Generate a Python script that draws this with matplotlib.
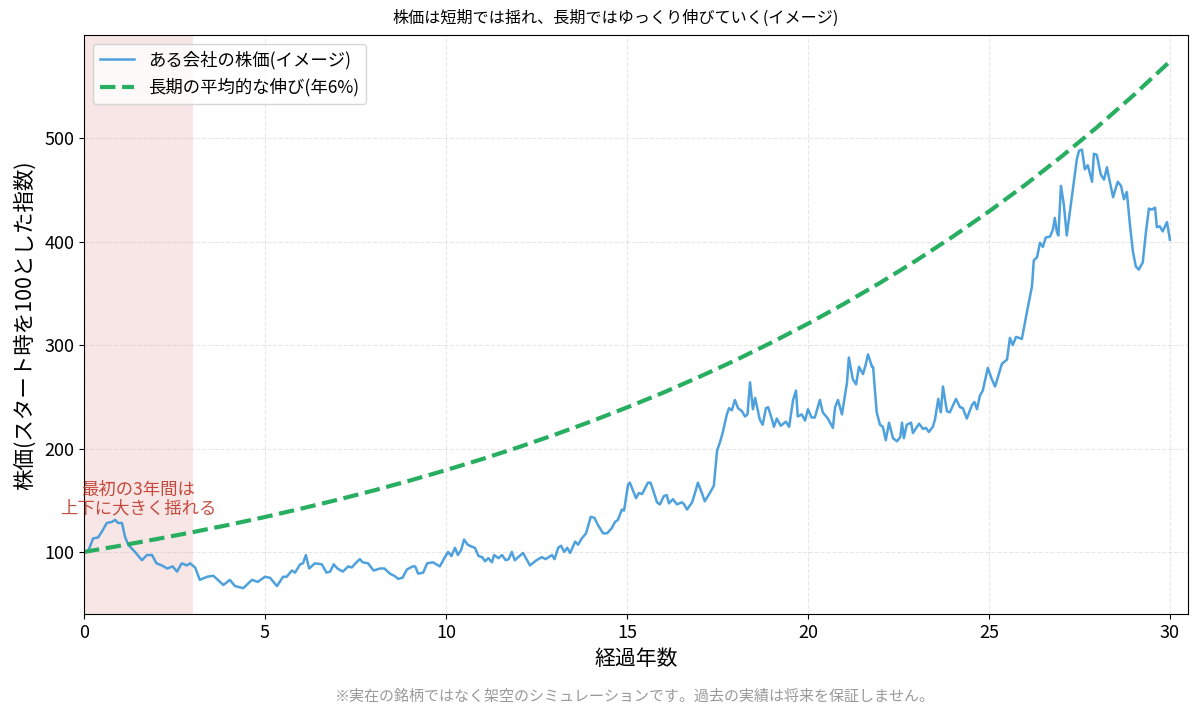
import numpy as np
import matplotlib
matplotlib.use("Agg")
import matplotlib.pyplot as plt

plt.rcParams['font.family'] = ['Noto Sans CJK JP', 'DejaVu Sans']

# years elapsed and simulated price (start = 100)
years = [0.00, 0.12, 0.25, 0.39, 0.50, 0.63, 0.77, 0.86, 0.94, 1.05, 1.13, 1.22, 1.41, 1.60, 1.74, 1.88,
         2.00, 2.15, 2.30, 2.45, 2.57, 2.70, 2.84, 2.93, 3.07, 3.20, 3.40, 3.57, 3.70, 3.85, 4.03, 4.17,
         4.40, 4.64, 4.80, 5.00, 5.14, 5.33, 5.50, 5.60, 5.74, 5.83, 5.97, 6.05, 6.13, 6.22, 6.38, 6.57,
         6.70, 6.80, 6.90, 7.00, 7.15, 7.30, 7.40, 7.50, 7.62, 7.70, 7.85, 8.00, 8.18, 8.30, 8.45, 8.57,
         8.68, 8.80, 8.92, 9.08, 9.15, 9.23, 9.37, 9.48, 9.64, 9.83, 9.97, 10.06, 10.15, 10.25, 10.33,
         10.42, 10.50, 10.60, 10.72, 10.80, 10.90, 11.00, 11.08, 11.17, 11.27, 11.33, 11.45, 11.55, 11.65,
         11.73, 11.82, 11.90, 12.13, 12.32, 12.50, 12.65, 12.75, 12.93, 13.00, 13.10, 13.18, 13.27, 13.35,
         13.43, 13.57, 13.65, 13.75, 13.87, 14.00, 14.10, 14.20, 14.34, 14.45, 14.58, 14.67, 14.75, 14.86,
         14.92, 15.03, 15.08, 15.25, 15.33, 15.42, 15.58, 15.65, 15.72, 15.83, 15.91, 16.02, 16.10, 16.16,
         16.27, 16.38, 16.52, 16.58, 16.66, 16.80, 16.88, 16.96, 17.07, 17.15, 17.29, 17.40, 17.49, 17.57,
         17.65, 17.76, 17.82, 17.90, 17.98, 18.07, 18.18, 18.26, 18.33, 18.40, 18.48, 18.54, 18.62, 18.67,
         18.75, 18.84, 18.90, 19.00, 19.06, 19.14, 19.25, 19.39, 19.48, 19.59, 19.67, 19.72, 19.83, 19.92,
         20.00, 20.10, 20.19, 20.33, 20.41, 20.55, 20.69, 20.75, 20.83, 20.94, 21.08, 21.13, 21.24, 21.33,
         21.41, 21.52, 21.58, 21.66, 21.77, 21.80, 21.90, 21.99, 22.07, 22.15, 22.24, 22.35, 22.46, 22.55,
         22.60, 22.65, 22.73, 22.85, 22.90, 23.07, 23.18, 23.26, 23.34, 23.45, 23.51, 23.60, 23.67, 23.73,
         23.84, 23.92, 24.09, 24.20, 24.28, 24.39, 24.53, 24.60, 24.67, 24.75, 24.83, 24.97, 25.08, 25.17,
         25.36, 25.50, 25.58, 25.66, 25.75, 25.91, 26.05, 26.19, 26.24, 26.33, 26.41, 26.49, 26.57, 26.69,
         26.77, 26.82, 26.88, 26.92, 26.99, 27.07, 27.15, 27.27, 27.35, 27.43, 27.49, 27.57, 27.65, 27.73,
         27.85, 27.90, 27.98, 28.09, 28.18, 28.26, 28.31, 28.43, 28.48, 28.56, 28.65, 28.73, 28.81, 28.90,
         28.98, 29.06, 29.14, 29.25, 29.34, 29.42, 29.50, 29.59, 29.64, 29.72, 29.80, 29.92, 30.00]
price = [100, 101, 113, 114, 120, 128, 129, 131, 128, 128, 115, 107, 100, 92, 97, 97,
         89, 87, 84, 86, 81, 89, 87, 89, 85, 73, 76, 77, 73, 68, 73, 67,
         65, 73, 71, 76, 75, 67, 76, 76, 82, 80, 88, 89, 97, 84, 89, 88,
         80, 81, 88, 84, 81, 86, 85, 89, 93, 90, 89, 82, 84, 84, 79, 77,
         74, 75, 83, 86, 86, 79, 80, 89, 90, 86, 95, 100, 96, 104, 97,
         102, 112, 107, 105, 104, 96, 95, 91, 94, 90, 97, 94, 97, 92,
         93, 100, 92, 99, 87, 92, 95, 93, 97, 93, 104, 106, 100, 104,
         99, 110, 107, 113, 118, 134, 133, 126, 118, 118, 123, 129, 131, 141,
         140, 165, 167, 152, 157, 156, 167, 167, 160, 148, 146, 154, 155, 147,
         151, 146, 148, 146, 141, 148, 157, 167, 157, 149, 157, 164, 198, 206,
         216, 233, 239, 237, 247, 239, 236, 231, 233, 264, 238, 249, 236, 228,
         223, 239, 240, 229, 221, 229, 222, 226, 221, 247, 256, 231, 233, 227,
         238, 230, 230, 247, 235, 229, 220, 240, 247, 233, 264, 288, 267, 262,
         279, 272, 279, 291, 279, 279, 235, 223, 221, 208, 225, 210, 207, 211,
         225, 210, 223, 225, 215, 224, 219, 220, 216, 221, 228, 248, 235, 260,
         236, 235, 248, 240, 239, 229, 242, 245, 238, 251, 256, 278, 267, 260,
         282, 286, 307, 300, 308, 306, 332, 357, 382, 385, 399, 395, 404, 405,
         412, 423, 409, 406, 454, 436, 406, 438, 460, 480, 488, 489, 470, 474,
         458, 485, 484, 465, 460, 472, 463, 443, 449, 458, 454, 441, 448, 415,
         390, 376, 373, 380, 410, 432, 431, 433, 414, 415, 410, 419, 402]

# long-term 6% per year trend, yearly values
trend_years = list(range(31))
trend = [100.0, 106.0, 112.4, 119.1, 126.2, 133.8, 141.9, 150.4, 159.4, 169.0, 179.1,
         189.8, 201.2, 213.3, 226.1, 239.7, 254.0, 269.3, 285.4, 302.6, 320.7,
         340.0, 360.4, 382.0, 404.9, 429.2, 454.9, 482.2, 511.1, 541.8, 574.3]

fig, ax = plt.subplots(figsize=(12, 7.17), dpi=100)
fig.subplots_adjust(left=0.07, right=0.99, top=0.951, bottom=0.143)

ax.axvspan(0, 3, color='#c0392b', alpha=0.12, lw=0)
ax.plot(years, price, color='#3b97d9', alpha=0.9, lw=1.8, label='ある会社の株価(イメージ)')
ax.plot(trend_years, trend, color='#27ae60', lw=3, ls='--', label='長期の平均的な伸び(年6%)')

ax.text(1.5, 151, '最初の3年間は\n上下に大きく揺れる', color='#c0392b', alpha=0.9, fontsize=12.5,
        ha='center', va='center', linespacing=1.0)

ax.set_xlim(0, 30.5)
ax.set_title('株価は短期では揺れ、長期ではゆっくり伸びていく(イメージ)', fontsize=11.6, pad=9, x=0.482)
ax.set_xlabel('経過年数', fontsize=15)
ax.set_ylabel('株価(スタート時を100とした指数)', fontsize=15.5, labelpad=6)
ax.tick_params(labelsize=13)
ax.grid(True, ls='--', alpha=0.3)
ax.legend(loc='upper left', fontsize=12.5)

fig.text(0.529, 0.028, '※実在の銘柄ではなく架空のシミュレーションです。過去の実績は将来を保証しません。',
         ha='center', va='center', fontsize=10.8, color='#999999')

fig.savefig('out.png', dpi=100)
